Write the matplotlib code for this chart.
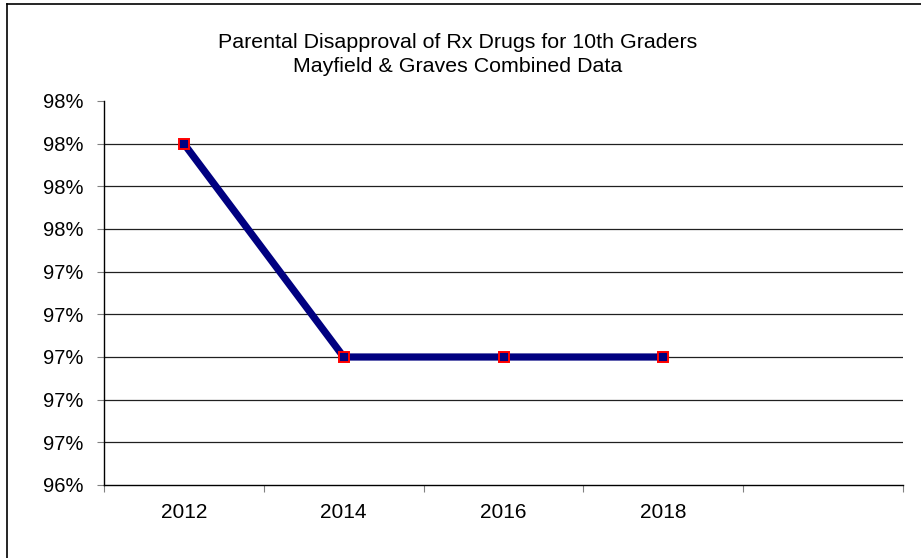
import matplotlib.pyplot as plt
from matplotlib.lines import Line2D
from matplotlib.ticker import FuncFormatter, MultipleLocator

plt.rcParams['font.family'] = ['Liberation Sans', 'DejaVu Sans']

# Chart data
years = ['2012', '2014', '2016', '2018']
disapproval = [0.980, 0.970, 0.970, 0.970]
n_slots = 5  # one empty category slot on the right
title_lines = ['Parental Disapproval of Rx Drugs for 10th Graders', 'Mayfield & Graves Combined Data']

fig = plt.figure(figsize=(9.21, 5.58), dpi=100)
W, H = 921, 558
ax = fig.add_axes([104 / W, 1 - 485 / H, (903 - 104) / W, (485 - 101) / H])

# Outer chart border (only left and top visible in the crop)
fig.add_artist(Line2D([7 / W, 7 / W], [0, 1 - 4 / H], transform=fig.transFigure, color='black', lw=1.2))
fig.add_artist(Line2D([7 / W, 1], [1 - 4 / H, 1 - 4 / H], transform=fig.transFigure, color='black', lw=1.2))

x = list(range(len(years)))
ax.plot(x, disapproval, color='#000080', lw=5.2, zorder=3)
ax.plot(x, disapproval, ls='none', marker='s', ms=6.5, mfc='#000080', mec='#ff0000', mew=1.4, zorder=4)

ax.set_xlim(-0.5, n_slots - 0.5)
ax.set_ylim(0.964, 0.982)
ax.yaxis.set_major_locator(MultipleLocator(0.002))
ax.yaxis.set_major_formatter(FuncFormatter(lambda v, p: f'{v * 100:.0f}%'))

# gridlines everywhere except the top edge
for v in [0.966 + 0.002 * i for i in range(8)]:
    ax.axhline(v, color='#202020', lw=0.9, zorder=1)

ax.set_xticks([i - 0.5 for i in range(n_slots + 1)])
ax.set_xticklabels([])
ax.set_xticks(x, minor=True)
ax.set_xticklabels(years, minor=True)
ax.tick_params(axis='x', which='minor', length=0, pad=13, labelsize=15)
ax.tick_params(axis='x', which='major', length=5, direction='out', color='gray')
ax.tick_params(axis='y', length=5, direction='out', color='gray', labelsize=14.5, pad=9.5)

for s in ['top', 'right']:
    ax.spines[s].set_visible(False)
ax.spines['left'].set_linewidth(1.0)
ax.spines['bottom'].set_linewidth(1.0)

fig.text(0.497, 1 - 43 / H, title_lines[0], ha='center', va='center', fontsize=15.4)
fig.text(0.497, 1 - 66 / H, title_lines[1], ha='center', va='center', fontsize=15.4)

plt.savefig('out.png', dpi=100)
